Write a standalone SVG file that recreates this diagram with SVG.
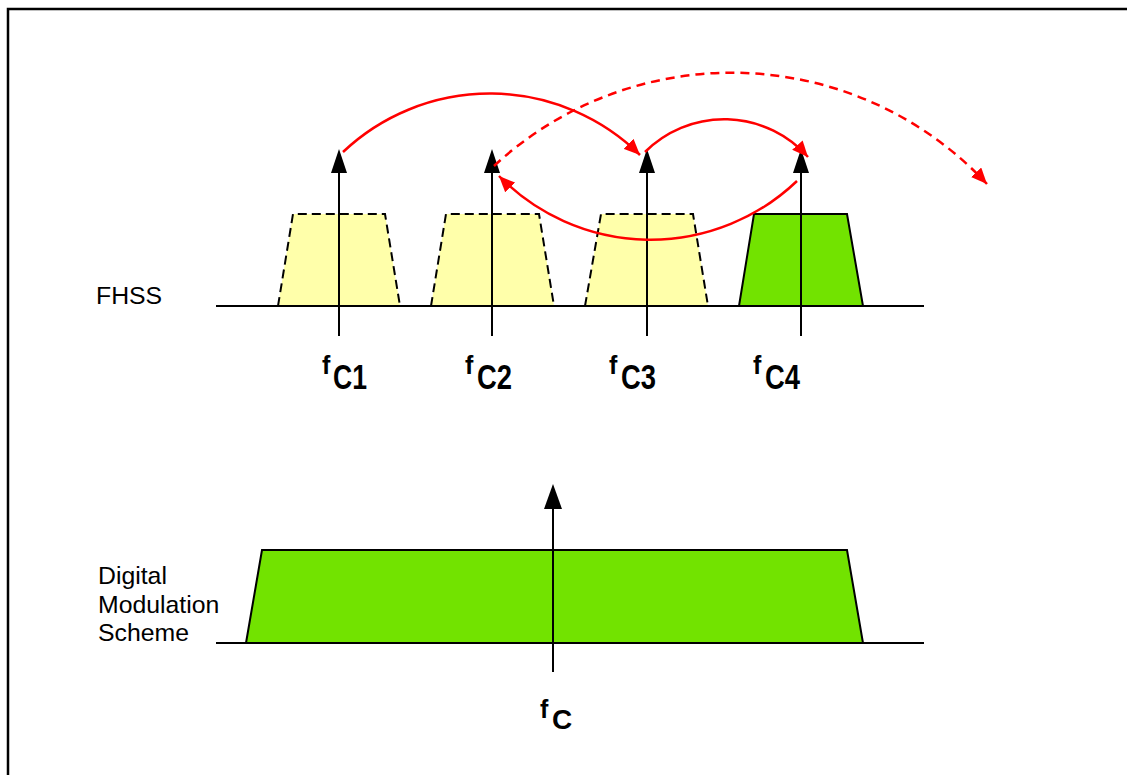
<svg xmlns="http://www.w3.org/2000/svg" width="1127" height="775" viewBox="0 0 1127 775">
<style>
.axis{stroke:#000;stroke-width:2;fill:none}
.stem{stroke:#000;stroke-width:2;fill:none}
.head{fill:#000}
.ghost{fill:#FFFFAA;stroke:#000;stroke-width:2;stroke-dasharray:9 5}
.band{fill:#72E300;stroke:#000;stroke-width:2}
.hop{stroke:#FF0000;stroke-width:2.5;fill:none}
.hopd{stroke:#FF0000;stroke-width:2.5;fill:none;stroke-dasharray:9 6}
.lbl{font-family:"Liberation Sans",Arial,sans-serif;font-size:24.8px;fill:#000}
.f{font-family:"Liberation Sans",Arial,sans-serif;font-weight:bold;font-size:25px;fill:#000}
.sub{font-family:"Liberation Sans",Arial,sans-serif;font-weight:bold;font-size:35px;fill:#000}
</style>
<defs>
<marker id="rh" markerUnits="userSpaceOnUse" markerWidth="18" markerHeight="14" refX="16" refY="7" orient="auto">
<path d="M0,0 L16,7 L0,14 z" fill="#FF0000"/>
</marker>
</defs>
<rect x="8" y="9" width="1140" height="790" fill="#fff" stroke="#000" stroke-width="2.5"/>

<g id="fhss-label"><text class="lbl" x="96" y="304">FHSS</text></g>
<g id="dms-label">
<text class="lbl" x="98" y="584">Digital</text>
<text class="lbl" x="98" y="613">Modulation</text>
<text class="lbl" x="98" y="641">Scheme</text>
</g>

<g id="fhss-band1"><polygon class="ghost" points="278,306 293,214 385,214 400,306"/></g>
<g id="fhss-band2"><polygon class="ghost" points="431,306 446,214 539,214 554,306"/></g>
<g id="fhss-band3"><polygon class="ghost" points="585,306 601,214 693,214 708,306"/></g>
<g id="fhss-band4"><polygon class="band" points="739,306 754,214 847,214 863,306"/></g>
<g id="fhss-axis"><line class="axis" x1="216" y1="306" x2="924" y2="306"/></g>

<g id="fc1">
<line class="stem" x1="339" y1="336" x2="339" y2="170"/>
<polygon class="head" points="339,149 347,173 331,173"/>
<text class="f" x="322" y="374">f</text>
<text class="sub" x="333" y="389" textLength="34" lengthAdjust="spacingAndGlyphs">C1</text>
</g>
<g id="fc2">
<line class="stem" x1="492" y1="336" x2="492" y2="170"/>
<polygon class="head" points="492,149 500,173 484,173"/>
<text class="f" x="465" y="374">f</text>
<text class="sub" x="477" y="389" textLength="35" lengthAdjust="spacingAndGlyphs">C2</text>
</g>
<g id="fc3">
<line class="stem" x1="647" y1="336" x2="647" y2="170"/>
<polygon class="head" points="647,149 655,173 639,173"/>
<text class="f" x="609" y="374">f</text>
<text class="sub" x="621" y="389" textLength="35" lengthAdjust="spacingAndGlyphs">C3</text>
</g>
<g id="fc4">
<line class="stem" x1="801" y1="336" x2="801" y2="170"/>
<polygon class="head" points="801,149 809,173 793,173"/>
<text class="f" x="753" y="374">f</text>
<text class="sub" x="765" y="389" textLength="35" lengthAdjust="spacingAndGlyphs">C4</text>
</g>

<g id="dms-band"><polygon class="band" points="246,643 262,550 847,550 863,643"/></g>
<g id="dms-axis"><line class="axis" x1="216" y1="643" x2="924" y2="643"/></g>
<g id="fc">
<line class="stem" x1="553" y1="672" x2="553" y2="505"/>
<polygon class="head" points="553,484 562,509 544,509"/>
<text class="f" x="540" y="718">f</text>
<text class="sub" x="552" y="729" style="font-size:28px">C</text>
</g>

<g id="connectors">
<path class="hop" d="M343,152 A214,214 0 0 1 640,155" marker-end="url(#rh)"/>
<path class="hop" d="M645,152 A112,112 0 0 1 808,157" marker-end="url(#rh)"/>
<path class="hop" d="M797,181 A212,212 0 0 1 499,176" marker-end="url(#rh)"/>
<path class="hopd" d="M494,166 A349,349 0 0 1 987,184" marker-end="url(#rh)"/>
</g>
</svg>
